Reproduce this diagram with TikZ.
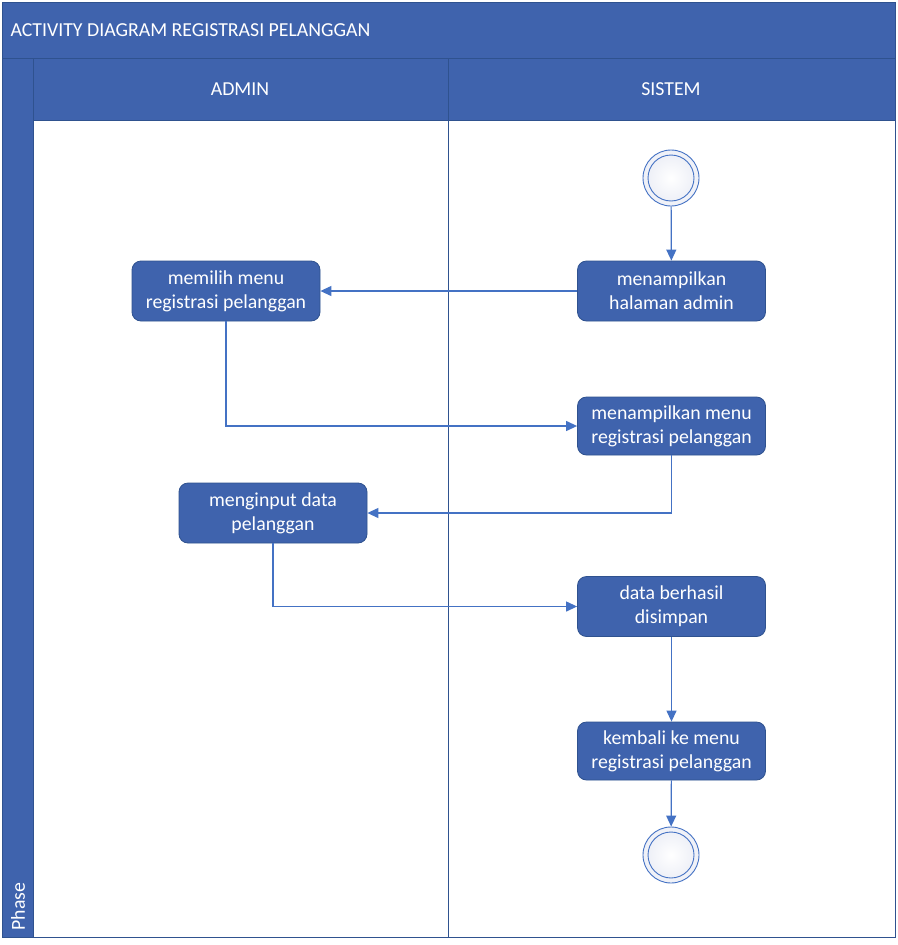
\documentclass[tikz,border=0pt]{standalone}
\usepackage{fontspec}
\setmainfont{Carlito}
\usetikzlibrary{arrows.meta}
\definecolor{lanefill}{HTML}{3F63AD}
\definecolor{laneedge}{HTML}{2F528F}
\definecolor{flow}{HTML}{4472C4}
\definecolor{ringfill}{HTML}{EEF0F7}
\begin{document}
\begin{tikzpicture}[x=1pt,y=-1pt,
  actbox/.style={draw=laneedge,line width=0.8pt,fill=lanefill,rounded corners=9pt,
    minimum width=188pt,minimum height=60pt,text=white,align=center,
    font=\fontsize{19.8}{24}\selectfont,inner sep=2pt},
  flowline/.style={draw=flow,line width=1.2pt,-{Triangle[length=11pt,width=10pt]}},
  ring/.style={circle,draw=flow,line width=0.9pt,inner color=white,outer color=ringfill,minimum size=#1},
  hdrtext/.style={text=white,font=\fontsize{19.8}{24}\selectfont}]
\useasboundingbox (0,0) rectangle (897,945);
% frame, title bar, phase column and lane headers
\fill[white] (2,2) rectangle (895,937);
\fill[lanefill] (2,2) rectangle (895,58);
\fill[lanefill] (2,58) rectangle (33,937);
\fill[lanefill] (33,58) rectangle (895,120);
\draw[laneedge,line width=0.8pt] (2,2) rectangle (895,937);
\draw[laneedge,line width=0.8pt] (2,58) -- (895,58);
\draw[laneedge,line width=0.8pt] (33,58) -- (33,937);
\draw[laneedge,line width=0.8pt] (33,120) -- (895,120);
\draw[laneedge,line width=0.8pt] (448,58) -- (448,937);
\node[hdrtext,anchor=west] (title) at (7,30) {ACTIVITY DIAGRAM REGISTRASI PELANGGAN};
\node[hdrtext] (admin) at (240,89) {ADMIN};
\node[hdrtext] (sistem) at (671,89) {SISTEM};
\node[hdrtext,rotate=90,anchor=west] (phase) at (18,934) {Phase};
% start and end markers
\node[ring=56pt] (start) at (671,178) {};
\node[ring=46pt] (startin) at (671,178) {};
\node[ring=56pt] (stop) at (671,855) {};
\node[ring=46pt] (stopin) at (671,855) {};
% activities
\node[actbox] (pilih) at (226,291) {memilih menu\\registrasi pelanggan};
\node[actbox] (halaman) at (671.5,291) {menampilkan\\halaman admin};
\node[actbox,minimum height=58pt] (menu) at (671.5,426) {menampilkan menu\\registrasi pelanggan};
\node[actbox] (input) at (273,513) {menginput data\\pelanggan};
\node[actbox] (simpan) at (671.5,606.5) {data berhasil\\disimpan};
\node[actbox,minimum height=58pt] (kembali) at (671.5,751) {kembali ke menu\\registrasi pelanggan};
% control flow
\draw[flowline] (start) -- (halaman);
\draw[flowline] (halaman) -- (pilih);
\draw[flowline] (pilih.south) |- (menu.west);
\draw[flowline] (menu.south) |- (input.east);
\draw[flowline] (input.south) |- (simpan.west);
\draw[flowline] (simpan) -- (kembali);
\draw[flowline] (kembali) -- (stop);
\end{tikzpicture}
\end{document}
